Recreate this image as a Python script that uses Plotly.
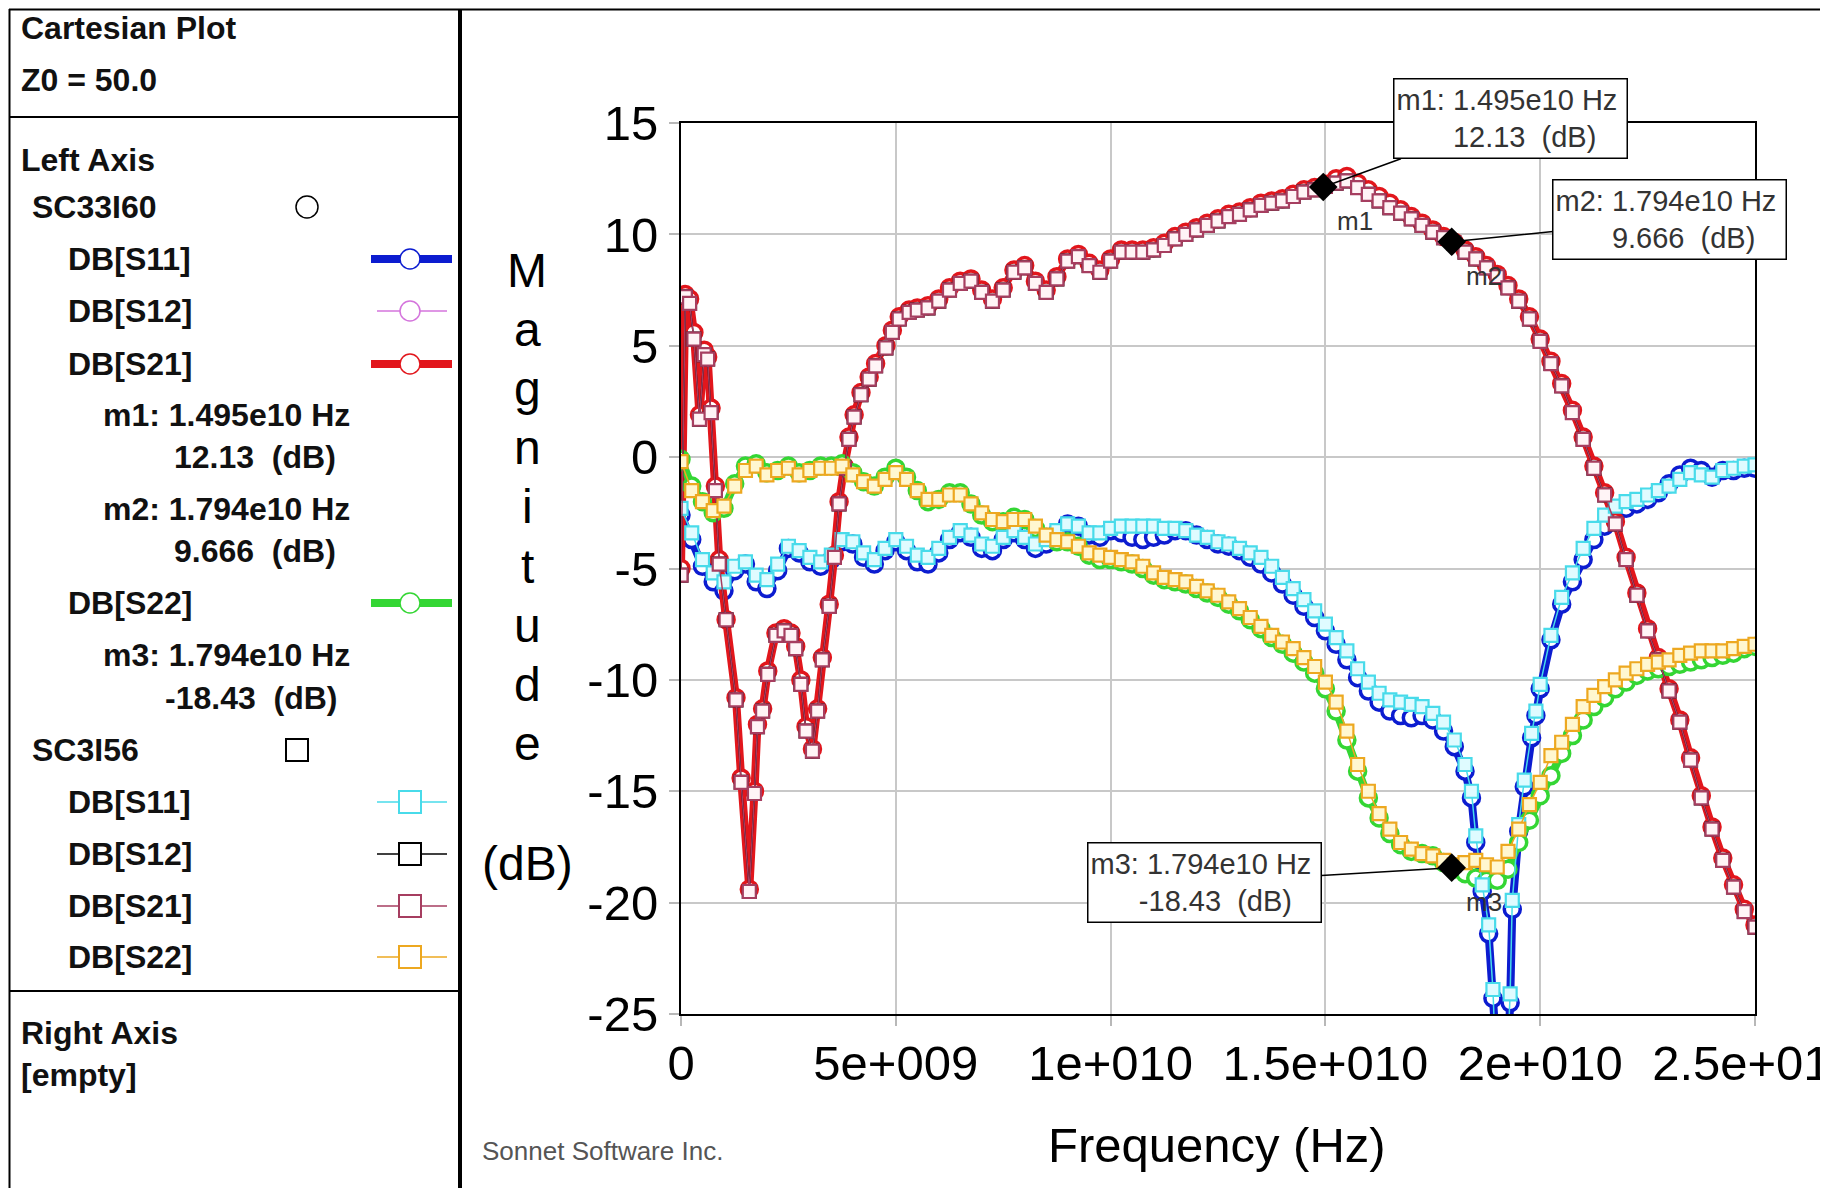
import plotly.graph_objects as go

# ---------------- data (frequency in GHz, magnitude in dB) ----------------
freq_s21 = [0.0, 0.1, 0.2, 0.3, 0.43, 0.54, 0.62, 0.7, 0.8, 0.89, 1.05, 1.28, 1.4, 1.59, 1.71, 1.78, 1.9,
            2.02, 2.21, 2.4, 2.56, 2.67, 2.79, 2.91, 3.06, 3.18, 3.29, 3.45, 3.57, 3.68, 3.8, 3.91, 4.03,
            4.19, 4.38, 4.53, 4.77, 4.92, 5.08, 5.31, 5.5,
            5.75, 6.0, 6.25, 6.5, 6.75, 7.0, 7.25, 7.5, 7.75, 8.0, 8.25, 8.5, 8.75, 9.0, 9.25, 9.5, 9.75,
            10.0, 10.25, 10.5, 10.75, 11.0, 11.25, 11.5, 11.75, 12.0, 12.25, 12.5, 12.75, 13.0, 13.25, 13.5,
            13.75, 14.0, 14.25, 14.5, 14.75, 15.0, 15.25, 15.5, 15.75, 16.0, 16.25, 16.5, 16.75, 17.0, 17.25,
            17.5, 17.75, 18.0, 18.25, 18.5, 18.75, 19.0, 19.25, 19.5, 19.75, 20.0, 20.25, 20.5, 20.75, 21.0,
            21.25, 21.5, 21.75, 22.0, 22.25, 22.5, 22.75, 23.0, 23.25, 23.5, 23.75, 24.0, 24.25, 24.5, 24.75,
            25.0]
s21_sc3i56 = [-5.3, 7.2, 6.9, 5.3, 1.7, 4.6, 4.4, 2.0, -1.5, -4.8, -7.3, -10.9, -14.6, -19.5, -15.1, -12.1, -11.4,
              -9.75, -8.0, -7.8, -8.0, -8.6, -10.2, -12.3, -13.2, -11.4, -9.1, -6.7, -4.5, -2.1, -0.5, 0.8, 1.8,
              2.8, 3.5, 4.1, 4.9, 5.6, 6.2, 6.5, 6.6,
              6.7, 7.0, 7.5, 7.8, 7.9, 7.4, 7.0, 7.5, 8.3, 8.5, 7.8, 7.4, 8.0, 8.8, 9.0, 8.6, 8.3,
              8.8, 9.2, 9.2, 9.2, 9.3, 9.5, 9.8, 10.0, 10.2, 10.4, 10.6, 10.8, 10.9, 11.1, 11.3,
              11.4, 11.5, 11.7, 11.9, 12.0, 12.15, 12.3, 12.4, 12.1, 11.8, 11.5, 11.2, 10.95, 10.7, 10.4,
              10.1, 9.85, 9.6, 9.2, 8.9, 8.5, 8.1, 7.6, 7.0, 6.2, 5.2, 4.2, 3.2, 2.0, 0.8,
              -0.5, -1.7, -3.0, -4.6, -6.2, -7.8, -9.1, -10.5, -11.9, -13.6, -15.3, -16.7, -18.1, -19.3, -20.4,
              -21.1]
s21_sc33i60 = [-5.0, 7.3, 7.1, 5.6, 1.9, 4.8, 4.5, 2.2, -1.3, -4.6, -7.3, -10.8, -14.4, -19.4, -15.0, -12.0, -11.3,
               -9.6, -7.9, -7.7, -7.9, -8.5, -10.0, -12.1, -13.1, -11.3, -9.0, -6.6, -4.4, -2.0, -0.4, 0.9, 1.9,
               2.9, 3.6, 4.2, 5.0, 5.7, 6.3, 6.6, 6.7,
               6.8, 7.1, 7.6, 7.9, 8.0, 7.5, 7.1, 7.6, 8.4, 8.6, 7.9, 7.5, 8.1, 8.9, 9.1, 8.7, 8.4,
               8.9, 9.3, 9.3, 9.3, 9.4, 9.6, 9.9, 10.1, 10.3, 10.5, 10.7, 10.9, 11.0, 11.2, 11.4,
               11.5, 11.6, 11.8, 12.0, 12.1, 12.25, 12.5, 12.6, 12.3, 12.0, 11.7, 11.4, 11.1, 10.8, 10.5,
               10.2, 9.9, 9.65, 9.3, 9.0, 8.6, 8.2, 7.7, 7.1, 6.3, 5.3, 4.3, 3.3, 2.1, 0.9,
               -0.4, -1.6, -2.9, -4.5, -6.1, -7.7, -9.0, -10.4, -11.8, -13.5, -15.2, -16.6, -18.0, -19.2, -20.3,
               -21.0]

freq_s11 = [0.0, 0.25, 0.5, 0.75, 1.0, 1.25, 1.5, 1.75, 2.0, 2.25, 2.5, 2.75, 3.0, 3.25, 3.5, 3.75, 4.0, 4.25,
            4.5, 4.75, 5.0, 5.25, 5.5, 5.75, 6.0, 6.25, 6.5, 6.75, 7.0, 7.25, 7.5, 7.75, 8.0, 8.25, 8.5, 8.75,
            9.0, 9.25, 9.5, 9.75, 10.0, 10.25, 10.5, 10.75, 11.0, 11.25, 11.5, 11.75, 12.0, 12.25, 12.5, 12.75,
            13.0, 13.25, 13.5, 13.75, 14.0, 14.25, 14.5, 14.75, 15.0, 15.25, 15.5, 15.75, 16.0, 16.25, 16.5,
            16.75, 17.0, 17.25, 17.5, 17.75, 18.0, 18.25,
            18.4, 18.5, 18.65, 18.8, 18.9, 19.0, 19.15, 19.3, 19.35, 19.5, 19.63, 19.8, 19.9, 20.0,
            20.25, 20.5, 20.75, 21.0, 21.25, 21.5, 21.75, 22.0, 22.25, 22.5, 22.75, 23.0, 23.25, 23.5, 23.75,
            24.0, 24.25, 24.5, 24.75, 25.0]
s11_sc3i56 = [-2.3, -3.4, -4.6, -5.2, -5.6, -4.9, -4.7, -5.3, -5.5, -4.8, -4.0, -4.2, -4.5, -4.7, -4.4, -3.7, -3.8, -4.3,
              -4.6, -4.1, -3.7, -4.0, -4.4, -4.5, -4.1, -3.6, -3.3, -3.5, -3.9, -4.0, -3.6, -3.3, -3.6, -3.9, -3.7, -3.3,
              -3.0, -3.1, -3.4, -3.4, -3.2, -3.1, -3.1, -3.1, -3.1, -3.2, -3.2, -3.3, -3.5, -3.6, -3.8, -3.9,
              -4.1, -4.3, -4.5, -4.9, -5.4, -5.9, -6.4, -6.9, -7.5, -8.1, -8.7, -9.5, -10.1, -10.6, -10.9,
              -11.0, -11.1, -11.2, -11.5, -11.9, -12.7, -13.8,
              -15.0, -17.0, -19.2, -21.0, -23.9, -29.0, -31.0, -24.1, -19.9, -16.5, -14.5, -12.4, -11.4, -10.2,
              -8.0, -6.3, -5.2, -4.1, -3.2, -2.6, -2.2, -2.0, -1.9, -1.7, -1.5, -1.3, -1.0, -0.7, -0.8,
              -0.9, -0.6, -0.5, -0.4, -0.35]
s11_sc33i60 = [-2.6, -3.7, -4.9, -5.6, -6.0, -5.1, -4.8, -5.6, -5.9, -5.1, -4.1, -4.3, -4.7, -4.9, -4.6, -3.8, -3.9, -4.5,
               -4.8, -4.2, -3.8, -4.2, -4.7, -4.8, -4.3, -3.7, -3.4, -3.6, -4.1, -4.2, -3.7, -3.4, -3.7, -4.1, -3.9, -3.4,
               -3.0, -3.1, -3.5, -3.6, -3.3, -3.4, -3.6, -3.7, -3.6, -3.5, -3.3, -3.3, -3.5, -3.7, -3.9, -4.0,
               -4.2, -4.5, -4.8, -5.2, -5.7, -6.2, -6.7, -7.2, -7.8, -8.4, -9.1, -9.9, -10.5, -11.0, -11.4,
               -11.6, -11.7, -11.6, -11.8, -12.3, -13.0, -14.1,
               -15.3, -17.3, -19.5, -21.4, -24.3, -29.5, -31.5, -24.5, -20.3, -16.8, -14.8, -12.6, -11.6, -10.4,
               -8.2, -6.6, -5.6, -4.6, -3.7, -3.1, -2.6, -2.3, -2.1, -1.9, -1.6, -1.2, -0.8, -0.5, -0.6,
               -0.9, -0.6, -0.6, -0.5, -0.5]

freq_s22 = [0.0, 0.25, 0.5, 0.75, 1.0, 1.25, 1.5, 1.75, 2.0, 2.25, 2.5, 2.75, 3.0, 3.25, 3.5, 3.75, 4.0, 4.25,
            4.5, 4.75, 5.0, 5.25, 5.5, 5.75, 6.0, 6.25, 6.5, 6.75, 7.0, 7.25, 7.5, 7.75, 8.0, 8.25, 8.5, 8.75,
            9.0, 9.25, 9.5, 9.75, 10.0, 10.25, 10.5, 10.75, 11.0, 11.25, 11.5, 11.75, 12.0, 12.25, 12.5, 12.75,
            13.0, 13.25, 13.5, 13.75, 14.0, 14.25, 14.5, 14.75, 15.0, 15.25, 15.5, 15.75, 16.0, 16.25, 16.5,
            16.75, 17.0, 17.25, 17.5, 17.75, 18.0, 18.25, 18.5, 18.75, 19.0, 19.25, 19.5, 19.75, 20.0, 20.25,
            20.5, 20.75, 21.0, 21.25, 21.5, 21.75, 22.0, 22.25, 22.5, 22.75, 23.0, 23.25, 23.5, 23.75, 24.0,
            24.25, 24.5, 24.75, 25.0]
s22_sc3i56 = [-0.2, -1.5, -2.0, -2.4, -2.2, -1.3, -0.6, -0.4, -0.8, -0.6, -0.5, -0.8, -0.6, -0.5, -0.5, -0.4, -0.8, -1.1,
              -1.3, -1.0, -0.7, -1.0, -1.5, -1.9, -1.9, -1.7, -1.7, -2.1, -2.5, -2.8, -2.9, -2.8, -2.8, -3.1, -3.5, -3.7,
              -3.8, -4.0, -4.3, -4.4, -4.5, -4.6, -4.7, -4.9, -5.2, -5.4, -5.5, -5.6, -5.8, -6.0, -6.2, -6.5,
              -6.8, -7.2, -7.6, -8.0, -8.3, -8.6, -9.0, -9.4, -10.1, -11.0, -12.3, -13.8, -15.0, -16.0, -16.7,
              -17.3, -17.6, -17.8, -17.9, -18.1, -18.3, -18.2, -18.1, -18.3, -18.4, -17.7, -16.7, -15.6, -14.6, -13.4,
              -12.8, -12.0, -11.2, -10.7, -10.3, -10.0, -9.7, -9.5, -9.3, -9.2, -9.1, -8.9, -8.8, -8.7, -8.7,
              -8.7, -8.6, -8.5, -8.4]
s22_sc33i60 = [-0.1, -1.3, -2.0, -2.5, -2.3, -1.2, -0.4, -0.3, -0.7, -0.6, -0.4, -0.7, -0.6, -0.4, -0.4, -0.3, -0.7, -1.1,
               -1.3, -0.9, -0.5, -0.9, -1.5, -2.0, -1.9, -1.6, -1.6, -2.1, -2.6, -2.9, -2.9, -2.7, -2.8, -3.2, -3.6, -3.8,
               -3.8, -4.0, -4.4, -4.6, -4.6, -4.7, -4.8, -5.0, -5.3, -5.5, -5.6, -5.7, -5.9, -6.1, -6.3, -6.6,
               -6.9, -7.3, -7.7, -8.1, -8.4, -8.8, -9.2, -9.7, -10.4, -11.4, -12.7, -14.1, -15.3, -16.2, -16.9,
               -17.4, -17.7, -17.8, -17.9, -18.2, -18.5, -18.7, -18.9, -19.0, -19.0, -18.5, -17.3, -16.3, -15.2, -14.3,
               -13.3, -12.5, -11.8, -11.2, -10.8, -10.4, -10.1, -9.8, -9.6, -9.5, -9.4, -9.3, -9.2, -9.1, -9.0,
               -8.9, -8.8, -8.6, -8.5]

marker_names = ["m1", "m2", "m3"]
marker_freq = [14.95, 17.94, 17.94]
marker_val = [12.13, 9.666, -18.43]
marker_freq_text = ["1.495e10", "1.794e10", "1.794e10"]
marker_val_text = ["12.13", "9.666", "-18.43"]

x_tick_vals = [0, 5, 10, 15, 20, 25]
x_tick_text = ["0", "5e+009", "1e+010", "1.5e+010", "2e+010", "2.5e+010"]
y_tick_vals = [15, 10, 5, 0, -5, -10, -15, -20, -25]
y_tick_text = ["15", "10", "5", "0", "-5", "-10", "-15", "-20", "-25"]

# ---------------- layout geometry (page pixels; body margin is 8px) ----------------
OFF = 8
W, H = 1828, 1188
ML = 681 - OFF
MT = 123 - OFF
MR = W - (1755 - OFF)
MB = H - (1014 - OFF)
PW = W - ML - MR
PH = H - MT - MB


def px(x):
    return (x - OFF - ML) / PW


def py(y):
    return 1 - (y - OFF - MT) / PH


FONT = "Liberation Sans, Arial, sans-serif"

BLUE = "#0c1cd0"
MAGENTA = "#d474dc"
RED = "#e2161c"
GREEN = "#34d634"
CYAN = "#48dbea"
BLACK = "#000000"
MAUVE = "#a63e60"
ORANGE = "#eda820"

fig = go.Figure()


def add_series(f, v, color, lw, symbol, msize, mline_w, mfill):
    fig.add_trace(go.Scatter(
        x=f, y=v, mode="lines+markers",
        line=dict(color=color, width=lw),
        marker=dict(symbol=symbol, size=msize, color=mfill, line=dict(color=color, width=mline_w)),
        showlegend=False, hoverinfo="skip"))


# SC33I60 (thick lines, circles)
add_series(freq_s21, s21_sc33i60, MAGENTA, 1.5, "circle", 16, 2, "white")      # DB[S12]
add_series(freq_s11, s11_sc33i60, BLUE, 8, "circle", 16, 3.5, "white")         # DB[S11]
add_series(freq_s21, s21_sc33i60, RED, 8, "circle", 16, 3.5, "white")          # DB[S21]
add_series(freq_s22, s22_sc33i60, GREEN, 8, "circle", 16, 3.5, "white")        # DB[S22]
# SC3I56 (thin lines, squares)
add_series(freq_s21, s21_sc3i56, BLACK, 1.5, "square", 13, 2, "white")         # DB[S12]
add_series(freq_s11, s11_sc3i56, CYAN, 1.5, "square", 13, 2.2, "#dffbff")      # DB[S11]
add_series(freq_s21, s21_sc3i56, MAUVE, 1.5, "square", 13, 2.2, "#fff4f6")     # DB[S21]
add_series(freq_s22, s22_sc3i56, ORANGE, 1.5, "square", 13, 2.2, "#fff7d0")    # DB[S22]

# marker diamonds
fig.add_trace(go.Scatter(x=marker_freq, y=marker_val, mode="markers",
                         marker=dict(symbol="diamond", size=22, color="black"),
                         cliponaxis=False, showlegend=False, hoverinfo="skip"))

annotations = []
shapes = []

# marker boxes
box_offsets = [(187, -68), (218, -22), (-247, 15)]
NB = "\u00a0"
for i in range(3):
    txt = (f"{marker_names[i]}: {marker_freq_text[i]} Hz<br>"
           + NB * (6 if marker_val_text[i].startswith("-") else 7)
           + f"{marker_val_text[i]}{NB}{NB}(dB)")
    annotations.append(dict(
        x=marker_freq[i], y=marker_val[i], xref="x", yref="y",
        ax=box_offsets[i][0], ay=box_offsets[i][1], axref="pixel", ayref="pixel",
        text=txt, showarrow=True, arrowhead=0, arrowwidth=1.5, arrowcolor="black", standoff=0,
        bordercolor="black", borderwidth=1.5, borderpad=2, bgcolor="white",
        width=228, height=74, align="left", valign="middle",
        font=dict(family=FONT, size=29, color="#333333")))
    annotations.append(dict(
        x=marker_freq[i], y=marker_val[i], xref="x", yref="y", showarrow=False,
        xshift=32, yshift=-34, text=marker_names[i],
        font=dict(family=FONT, size=26, color="#333333")))

# y-axis title (stacked letters) and x-axis title
for i, ch in enumerate("Magnitude"):
    annotations.append(dict(x=px(527), y=py(270 + 59.2 * i), xref="paper", yref="paper",
                            text=ch, showarrow=False, xanchor="center", yanchor="middle",
                            font=dict(family=FONT, size=48, color="black")))
annotations.append(dict(x=px(527), y=py(863), xref="paper", yref="paper", text="(dB)",
                        showarrow=False, xanchor="center", yanchor="middle",
                        font=dict(family=FONT, size=48, color="black")))
annotations.append(dict(x=px(1217), y=py(1145), xref="paper", yref="paper", text="Frequency (Hz)",
                        showarrow=False, xanchor="center", yanchor="middle",
                        font=dict(family=FONT, size=49, color="black")))
annotations.append(dict(x=px(480), y=py(1151), xref="paper", yref="paper", text="Sonnet Software Inc.",
                        showarrow=False, xanchor="left", yanchor="middle",
                        font=dict(family=FONT, size=26, color="#555555")))

# left panel texts
panel_texts = [
    ("Cartesian Plot", 19, 28), ("Z0 = 50.0", 19, 80), ("Left Axis", 19, 160),
    ("SC33I60", 30, 207), ("DB[S11]", 66, 259), ("DB[S12]", 66, 311), ("DB[S21]", 66, 364),
    ("m1: 1.495e10 Hz", 101, 415), ("12.13  (dB)", 172, 457),
    ("m2: 1.794e10 Hz", 101, 509), ("9.666  (dB)", 172, 551),
    ("DB[S22]", 66, 603), ("m3: 1.794e10 Hz", 101, 655), ("-18.43  (dB)", 163, 698),
    ("SC3I56", 30, 750), ("DB[S11]", 66, 802), ("DB[S12]", 66, 854), ("DB[S21]", 66, 906),
    ("DB[S22]", 66, 957), ("Right Axis", 19, 1033), ("[empty]", 19, 1075),
]
for t, x, y in panel_texts:
    annotations.append(dict(x=px(x), y=py(y), xref="paper", yref="paper",
                            text="<b>" + t.replace("  ", NB + NB) + "</b>", showarrow=False,
                            xanchor="left", yanchor="middle",
                            font=dict(family=FONT, size=32, color="#111111")))


def pline(x0, y0, x1, y1, color="black", width=2):
    shapes.append(dict(type="line", xref="paper", yref="paper", x0=px(x0), y0=py(y0),
                       x1=px(x1), y1=py(y1), line=dict(color=color, width=width)))


def pcircle(cx, cy, r, color, width=1.5):
    shapes.append(dict(type="circle", xref="paper", yref="paper", x0=px(cx - r), y0=py(cy - r),
                       x1=px(cx + r), y1=py(cy + r), fillcolor="white", line=dict(color=color, width=width)))


def psquare(cx, cy, h, color, width=2):
    shapes.append(dict(type="rect", xref="paper", yref="paper", x0=px(cx - h), y0=py(cy - h),
                       x1=px(cx + h), y1=py(cy + h), fillcolor="white", line=dict(color=color, width=width)))


# frame lines
pline(9, 9.5, 1822, 9.5, width=2)
pline(9.5, 9, 9.5, 1200, width=2)
pline(460, 9, 460, 1200, width=4)
pline(1822, 9, 1822, 1200, width=3)
pline(9, 117, 460, 117, width=2)
pline(9, 991, 460, 991, width=2)

# legend glyphs
pcircle(307, 207, 11, "black")
for y, c, w in [(259, BLUE, 8), (311, MAGENTA, 1.5), (364, RED, 8), (603, GREEN, 8)]:
    if w > 2:
        pline(371, y, 452, y, color=c, width=w)
    else:
        pline(377, y, 447, y, color=c, width=w)
    pcircle(410, y, 10, c)
psquare(297, 750, 11, "black")
for y, c in [(802, CYAN), (854, BLACK), (906, MAUVE), (957, ORANGE)]:
    pline(377, y, 447, y, color=c, width=1.5)
    psquare(410, y, 11, c)

fig.update_layout(
    width=W, height=H, autosize=False,
    margin=dict(l=ML, r=MR, t=MT, b=MB, pad=0, autoexpand=False),
    paper_bgcolor="white", plot_bgcolor="white",
    showlegend=False,
    annotations=annotations, shapes=shapes,
    font=dict(family=FONT),
    xaxis=dict(range=[0, 25], tickmode="array", tickvals=x_tick_vals, ticktext=x_tick_text,
               automargin=False,
               showgrid=True, gridcolor="#c8c8c8", gridwidth=1.5, zeroline=False,
               showline=True, linecolor="black", linewidth=2, mirror=True,
               ticks="outside", ticklen=10, tickcolor="#b8b8b8", tickwidth=1.5,
               ticklabelstandoff=-5, ticklabeloverflow="allow",
               tickfont=dict(family=FONT, size=49, color="black")),
    yaxis=dict(range=[-25, 15], tickmode="array", tickvals=y_tick_vals, ticktext=y_tick_text,
               automargin=False,
               showgrid=True, gridcolor="#c8c8c8", gridwidth=1.5, zeroline=False,
               showline=True, linecolor="black", linewidth=2, mirror=True,
               ticks="outside", ticklen=10, tickcolor="#b8b8b8", tickwidth=1.5,
               ticklabelstandoff=1,
               tickfont=dict(family=FONT, size=49, color="black")),
)

fig.write_html("out.html")
